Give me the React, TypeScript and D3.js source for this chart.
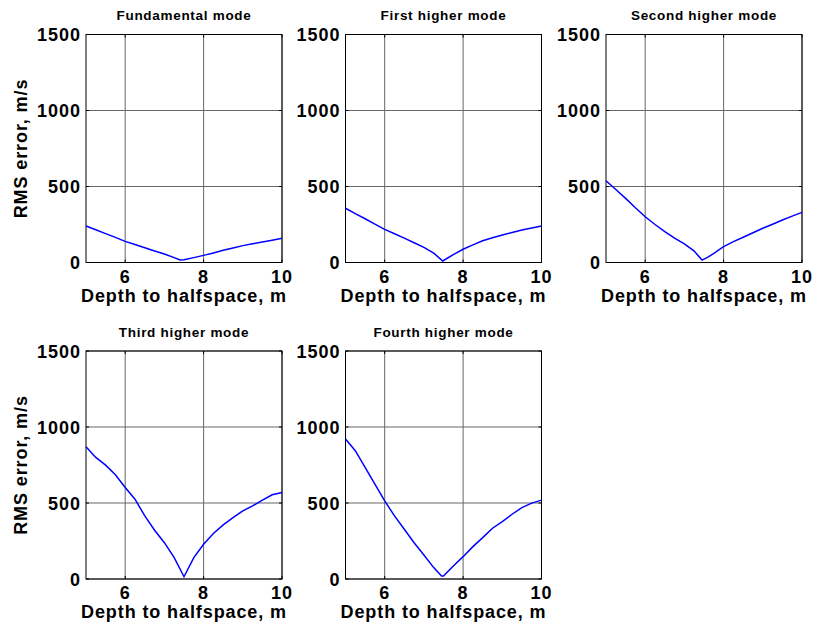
import React from 'react';
import * as d3 from 'd3';

// depth to halfspace (m) and RMS error (m/s)
const fundX = [5, 5.25, 5.5, 5.75, 6, 6.25, 6.5, 6.75, 7, 7.25, 7.4, 7.5, 7.75, 8, 8.25, 8.5, 8.75, 9, 9.25, 9.5, 9.75, 10];
const fundY = [240, 215, 190, 165, 139, 118, 97, 76, 56, 32, 16, 18, 32, 47, 63, 80, 96, 111, 123, 135, 147, 159];

const firstX = [5, 5.25, 5.5, 5.75, 6, 6.25, 6.5, 6.75, 7, 7.25, 7.48, 7.75, 8, 8.25, 8.5, 8.75, 9, 9.25, 9.5, 9.75, 10];
const firstY = [357, 322, 288, 252, 218, 189, 160, 130, 100, 62, 10, 52, 87, 116, 143, 163, 181, 198, 214, 227, 240];

const secondX = [5, 5.25, 5.5, 5.75, 6, 6.25, 6.5, 6.75, 7, 7.25, 7.45, 7.6, 7.75, 8, 8.25, 8.5, 8.75, 9, 9.25, 9.5, 9.75, 10];
const secondY = [538, 480, 422, 360, 301, 250, 203, 160, 122, 75, 16, 35, 60, 104, 137, 166, 196, 225, 252, 280, 305, 330];

const thirdX = [5, 5.25, 5.5, 5.75, 6, 6.25, 6.5, 6.75, 7, 7.25, 7.5, 7.75, 8, 8.25, 8.5, 8.75, 9, 9.25, 9.5, 9.75, 10];
const thirdY = [870, 800, 749, 686, 602, 525, 415, 321, 239, 141, 15, 141, 229, 299, 356, 404, 448, 481, 519, 554, 569];

const fourthX = [5, 5.25, 5.5, 5.75, 6, 6.25, 6.5, 6.75, 7, 7.25, 7.45, 7.5, 7.75, 8, 8.25, 8.5, 8.75, 9, 9.25, 9.5, 9.75, 10];
const fourthY = [921, 844, 734, 624, 514, 415, 327, 239, 158, 75, 20, 20, 86, 147, 213, 272, 334, 378, 426, 470, 499, 519];

const titles = ['Fundamental mode', 'First higher mode', 'Second higher mode', 'Third higher mode', 'Fourth higher mode'];
const seriesX = [fundX, firstX, secondX, thirdX, fourthX];
const seriesY = [fundY, firstY, secondY, thirdY, fourthY];

const xTicks = [6, 8, 10];
const yTicks = [0, 500, 1000, 1500];

// panel boxes
const lefts = [86, 345.5, 606];
const tops = [34.5, 351];
const W = 196;
const H = 228;

const FONT = '"Liberation Sans", Arial, Helvetica, sans-serif';

const Panel: React.FC<{ idx: number }> = ({ idx }) => {
  const col = idx % 3;
  const row = Math.floor(idx / 3);
  const x0 = lefts[col];
  const y0 = tops[row];
  const x = d3.scaleLinear().domain([5, 10]).range([x0, x0 + W]);
  const y = d3.scaleLinear().domain([0, 1500]).range([y0 + H, y0]);
  const xs = seriesX[idx];
  const ys = seriesY[idx];
  const line = d3
    .line<number>()
    .x((_, i) => x(xs[i]))
    .y((d) => y(d));
  const tl = 3;

  return (
    <g>
      {xTicks.map((t) => (
        <line key={'gx' + t} x1={x(t)} x2={x(t)} y1={y0} y2={y0 + H} stroke="#666" strokeWidth={1} />
      ))}
      {yTicks.map((t) => (
        <line key={'gy' + t} x1={x0} x2={x0 + W} y1={y(t)} y2={y(t)} stroke="#666" strokeWidth={1} />
      ))}
      {xTicks.map((t) => (
        <g key={'tx' + t}>
          <line x1={x(t)} x2={x(t)} y1={y0 + H} y2={y0 + H - tl} stroke="#000" />
          <line x1={x(t)} x2={x(t)} y1={y0} y2={y0 + tl} stroke="#000" />
        </g>
      ))}
      {yTicks.map((t) => (
        <g key={'ty' + t}>
          <line x1={x0} x2={x0 + tl} y1={y(t)} y2={y(t)} stroke="#000" />
          <line x1={x0 + W} x2={x0 + W - tl} y1={y(t)} y2={y(t)} stroke="#000" />
        </g>
      ))}
      <rect x={x0} y={y0} width={W} height={H} fill="none" stroke="#000" strokeWidth={1} />
      <path d={line(ys) || ''} fill="none" stroke="#0000ff" strokeWidth={1.5} />

      {xTicks.map((t) => (
        <text key={'lx' + t} x={x(t)} y={y0 + H + 20} textAnchor="middle" fontSize={18} fontWeight="bold" letterSpacing={1}>
          {t}
        </text>
      ))}
      {yTicks.map((t) => (
        <text key={'ly' + t} x={x0 - 5} y={y(t) + 6.5} textAnchor="end" fontSize={18} fontWeight="bold" letterSpacing={1}>
          {t}
        </text>
      ))}
      <text x={x0 + W / 2} y={y0 + H + 39} textAnchor="middle" fontSize={18} fontWeight="bold" letterSpacing={0.9}>
        Depth to halfspace, m
      </text>
      <text x={x0 + W / 2} y={y0 - 14.5} textAnchor="middle" fontSize={13.5} fontWeight="bold" letterSpacing={0.7}>
        {titles[idx]}
      </text>
      {col === 0 && (
        <text
          transform={`translate(27,${y0 + H / 2}) rotate(-90)`}
          textAnchor="middle"
          fontSize={18}
          fontWeight="bold"
          letterSpacing={0.9}
        >
          RMS error, m/s
        </text>
      )}
    </g>
  );
};

export default function App() {
  return (
    <svg
      width={816}
      height={628}
      style={{ position: 'absolute', left: 0, top: 0, background: '#fff' }}
      fontFamily={FONT}
    >
      <rect width={816} height={628} fill="#fff" />
      {titles.map((_, i) => (
        <Panel key={i} idx={i} />
      ))}
    </svg>
  );
}
